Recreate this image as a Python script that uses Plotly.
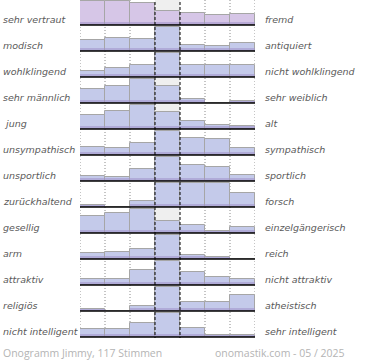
import plotly.graph_objects as go

left_labels = ["sehr vertraut", "modisch", "wohlklingend", "sehr männlich", " jung",
               "unsympathisch", "unsportlich", "zurückhaltend", "gesellig", "arm",
               "attraktiv", "religiös", "nicht intelligent"]
right_labels = ["fremd", "antiquiert", "nicht wohlklingend", "sehr weiblich", "alt",
                "sympathisch", "sportlich", "forsch", "einzelgängerisch", "reich",
                "nicht attraktiv", "atheistisch", "sehr intelligent"]

# bar heights per row, percent of the row's largest bar (7 steps, left -> right)
row01 = [98, 100, 92, 58, 50, 40, 44]
row02 = [44, 56, 52, 100, 25, 20, 33]
row03 = [25, 36, 52, 100, 48, 52, 52]
row04 = [60, 69, 100, 69, 16, 0, 7]
row05 = [59, 76, 100, 72, 32, 16, 12]
row06 = [33, 29, 51, 100, 72, 67, 31]
row07 = [21, 16, 51, 100, 67, 57, 27]
row08 = [8, 0, 27, 100, 100, 100, 59]
row09 = [69, 85, 100, 52, 35, 8, 25]
row10 = [24, 28, 40, 100, 16, 8, 0]
row11 = [24, 24, 63, 100, 55, 35, 27]
row12 = [8, 0, 20, 100, 36, 36, 68]
row13 = [32, 32, 59, 100, 37, 9, 7]
rows = [row01, row02, row03, row04, row05, row06, row07, row08, row09, row10, row11, row12, row13]

footer_left = "Onogramm Jimmy, 117 Stimmen"
footer_right = "onomastik.com - 05 / 2025"

PITCH = 26
FULL = 24.0
TOTAL = PITCH * len(rows)
PL, PR = 80, 255
PW = PR - PL

def base_of(i):
    return TOTAL - 25 - PITCH * i

xs, bases, hs, cols, band_h = [], [], [], [], []
for i, r in enumerate(rows):
    for j, v in enumerate(r):
        h = v * FULL / 100.0
        xs.append(j + 0.5)
        bases.append(base_of(i))
        hs.append(h)
        cols.append("#d6c6e7" if i == 0 else "#c4caea")
        band_h.append(min(h, 3.0))

fig = go.Figure()
fig.add_trace(go.Bar(x=xs, y=hs, base=bases, width=1.0,
                     marker=dict(color=cols, line=dict(color="#a6a6a6", width=1)),
                     hoverinfo="skip"))
fig.add_trace(go.Bar(x=xs, y=band_h, base=bases, width=0.98,
                     marker=dict(color="rgba(160,145,200,0.55)", line=dict(width=0)),
                     hoverinfo="skip"))

shapes = []
for i in range(len(rows)):
    b = base_of(i)
    shapes.append(dict(type="rect", xref="x", yref="y", x0=3, x1=4, y0=b, y1=b + FULL + 1,
                       fillcolor="#efefef", line=dict(width=0), layer="below"))
    shapes.append(dict(type="line", xref="x", yref="y", x0=0, x1=7, y0=b, y1=b,
                       line=dict(color="#000000", width=1.6), layer="above"))
for gx in [0, 1, 2, 5, 6, 7]:
    shapes.append(dict(type="line", xref="x", yref="y", x0=gx, x1=gx, y0=-2, y1=TOTAL,
                       line=dict(color="#8a8a8a", width=1, dash="1px,2px"), layer="below"))
for gx in [3, 4]:
    shapes.append(dict(type="line", xref="x", yref="y", x0=gx, x1=gx, y0=-2, y1=TOTAL,
                       line=dict(color="#000000", width=1, dash="3px,2px"), layer="above"))

annotations = []
lab_font = dict(family="DejaVu Sans", size=9.5, color="#5a5a5a", style="italic")
for i in range(len(rows)):
    b = base_of(i)
    annotations.append(dict(text=left_labels[i], xref="paper", yref="y",
                            x=(1 - PL) / PW, y=b + 6, xanchor="left", yanchor="middle",
                            showarrow=False, font=lab_font))
    annotations.append(dict(text=right_labels[i], xref="paper", yref="y",
                            x=(263 - PL) / PW, y=b + 6, xanchor="left", yanchor="middle",
                            showarrow=False, font=lab_font))
foot_font = dict(family="Open Sans", size=10.5, color="#b4b4b4")
annotations.append(dict(text=footer_left, xref="paper", yref="paper",
                        x=(1 - PL) / PW, y=(TOTAL - 353) / TOTAL, xanchor="left", yanchor="middle",
                        showarrow=False, font=foot_font))
annotations.append(dict(text=footer_right, xref="paper", yref="paper",
                        x=(347 - PL) / PW, y=(TOTAL - 353) / TOTAL, xanchor="right", yanchor="middle",
                        showarrow=False, font=foot_font))

fig.update_layout(
    width=370, height=360,
    margin=dict(l=PL, r=370 - PR, t=0, b=360 - TOTAL),
    paper_bgcolor="white", plot_bgcolor="white",
    barmode="overlay", bargap=0, showlegend=False,
    xaxis=dict(range=[0, 7], visible=False, fixedrange=True),
    yaxis=dict(range=[0, TOTAL], visible=False, fixedrange=True),
    shapes=shapes, annotations=annotations,
)

fig.write_html("out.html", config={"displayModeBar": False},
               post_script="document.body.style.margin='0';document.body.style.overflow='hidden';")
